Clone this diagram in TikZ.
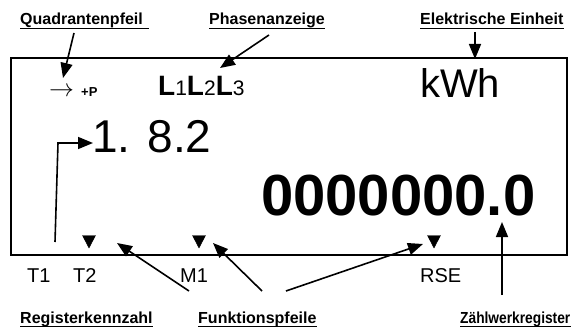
\documentclass[tikz,border=0pt]{standalone}
\usepackage{fontspec}
\setmainfont{Liberation Sans}
\usetikzlibrary{arrows.meta}
\newcommand{\fs}[1]{\fontsize{#1}{#1}\selectfont}
\tikzset{
  lab/.style={inner sep=0pt, anchor=base west, font=\fs{16}\bfseries},
  ul/.style={line width=1.5pt},
  arr/.style={line width=1.6pt, -{Triangle[length=15pt,width=12pt]}},
  tri/.style={fill=black},
  reg/.style={inner sep=0pt, anchor=base west, font=\fs{20}},
}
\begin{document}
\begin{tikzpicture}[x=1pt,y=-1pt]
\useasboundingbox (0,0) rectangle (578,329);
% display frame
\node[draw, line width=2pt, minimum width=556pt, minimum height=197pt, inner sep=0pt, anchor=north west] (box) at (10,57) {};
% top labels
\node[lab] (lq) at (20,25) {Quadrantenpfeil};
\node[lab] (lp) at (209,25) {Phasenanzeige};
\node[lab] (le) at (420,25) {Elektrische Einheit};
\draw[ul] ([yshift=-3.5pt]lq.base west) -- ([xshift=6pt,yshift=-3.5pt]lq.base east);
\draw[ul] ([yshift=-3.5pt]lp.base west) -- ([yshift=-3.5pt]lp.base east);
\draw[ul] ([yshift=-3.5pt]le.base west) -- ([yshift=-3.5pt]le.base east);
% bottom labels
\node[lab] (lr) at (20,323) {Registerkennzahl};
\node[lab] (lf) at (198,323) {Funktionspfeile};
\node[lab] (lz) at (460,323) {\scalebox{0.86}[1]{Zählwerkregister}};
\draw[ul] ([yshift=-3.5pt]lr.base west) -- ([yshift=-3.5pt]lr.base east);
\draw[ul] ([yshift=-3.5pt]lf.base west) -- ([yshift=-3.5pt]lf.base east);
\draw[ul] ([yshift=-3.5pt]lz.base west) -- ([yshift=-3.5pt]lz.base east);
% display contents
\node[inner sep=0pt, anchor=base west] (qa) at (49,96) {\fs{25}$\rightarrow$};
\node[inner sep=0pt, anchor=base west, font=\fs{13}\bfseries] (pp) at (81,96) {+P};
\node[inner sep=0pt, anchor=base west] (ph) at (158,95) {{\fs{28}\bfseries L}{\fs{21}1}{\fs{28}\bfseries L}{\fs{21}2}{\fs{28}\bfseries L}{\fs{21}3}};
\node[inner sep=0pt, anchor=base west, font=\fs{40}] (kwh) at (420,97) {kWh};
\node[inner sep=0pt, anchor=base west, font=\fs{46}] (obis) at (92,152) {1. 8.2};
\node[inner sep=0pt, anchor=base west, font=\fs{58}\bfseries] (cnt) at (261,215) {0000000.0};
% tariff labels
\node[reg] (t1) at (27,282) {T1};
\node[reg] (t2) at (73,282) {T2};
\node[reg] (m1) at (180,282) {M1};
\node[reg] (rse) at (420,282) {RSE};
% small triangles
\draw[tri] (82.5,235.5) -- (95.5,235.5) -- (89,248) -- cycle;
\draw[tri] (192.5,235.5) -- (205.5,235.5) -- (199,248) -- cycle;
\draw[tri] (427.5,235.5) -- (440.5,235.5) -- (434,248) -- cycle;
% connector coordinates
\coordinate (qs) at (74,33);   \coordinate (qe) at (63,78);
\coordinate (ps) at (269,35);  \coordinate (pe) at (220,68);
\coordinate (es) at (475,32);  \coordinate (ee) at (475,59);
\coordinate (rs) at (55,242);  \coordinate (rm) at (58,143); \coordinate (re) at (93,143);
\coordinate (f1s) at (189,291); \coordinate (f1e) at (117,243);
\coordinate (f2s) at (262,291); \coordinate (f2e) at (213,243);
\coordinate (f3s) at (286,291); \coordinate (f3e) at (423,244);
\coordinate (zs) at (502,295); \coordinate (ze) at (502,222);
% arrows
\draw[arr] (qs) -- (qe);
\draw[arr] (ps) -- (pe);
\draw[arr] (es) -- (ee);
\draw[arr] (rs) -- (rm) -- (re);
\draw[arr] (f1s) -- (f1e);
\draw[arr] (f2s) -- (f2e);
\draw[arr] (f3s) -- (f3e);
\draw[arr] (zs) -- (ze);
\end{tikzpicture}
\end{document}
